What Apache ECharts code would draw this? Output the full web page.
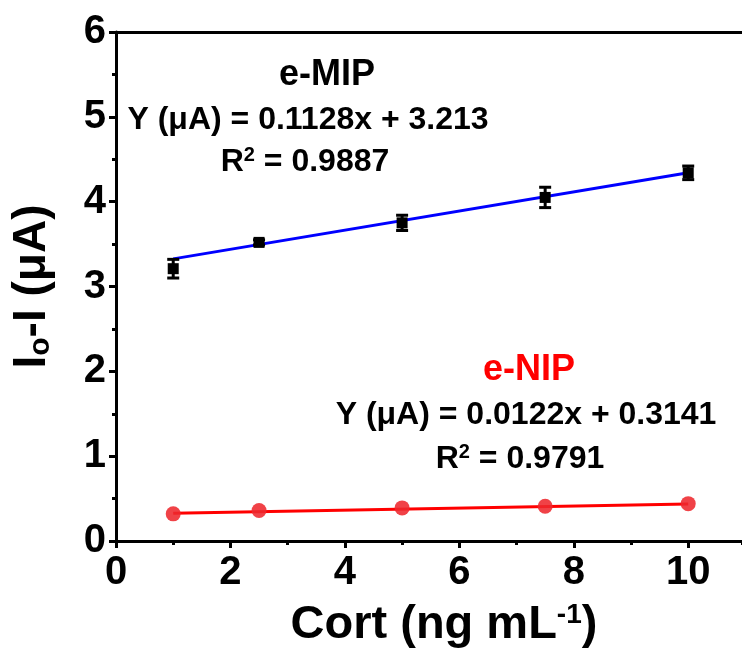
<!DOCTYPE html>
<html>
<head>
<meta charset="utf-8">
<script src="https://cdn.jsdelivr.net/npm/echarts@6/dist/echarts.min.js"></script>
<style>
  html, body { margin: 0; padding: 0; background: #fff; }
  #chart { width: 742px; height: 658px; }
</style>
</head>
<body>
<div id="chart"></div>
<script>
  // 浓度 (ng/mL)
  var conc = [1, 2.5, 5, 7.5, 10];
  // e-MIP 响应及误差
  var mipValues = [3.21, 3.52, 3.75, 4.05, 4.34];
  var mipErrors = [0.11, 0.03, 0.09, 0.12, 0.08];
  // e-NIP 响应
  var nipValues = [0.32, 0.36, 0.39, 0.41, 0.44];
  // 拟合参数 (斜率, 截距)
  var mipFit = [0.1128, 3.213];
  var nipFit = [0.0122, 0.3141];

  var fontFamily = '"Liberation Sans", Arial, sans-serif';
  var xMax = 10.94;

  function fitLine(fit) {
    var x0 = conc[0], x1 = conc[conc.length - 1];
    return [[x0, fit[0] * x0 + fit[1]], [x1, fit[0] * x1 + fit[1]]];
  }

  var chart = echarts.init(document.getElementById('chart'));

  var tickStyle = { color: '#000', width: 3 };
  var labelStyle = { fontFamily: fontFamily, fontWeight: 'bold', fontSize: 40, color: '#000' };
  var eqStyle = 'bold 32px ' + fontFamily;
  var r2Rich = {
    a: { fill: '#000', fontFamily: fontFamily, fontWeight: 'bold', fontSize: 32 },
    sup: { fill: '#000', fontFamily: fontFamily, fontWeight: 'bold', fontSize: 20, verticalAlign: 'top', padding: [0, 0, 14, 0] }
  };

  var option = {
    animation: false,
    backgroundColor: '#fff',
    grid: { left: 116, top: 32, right: 0, bottom: 117 },
    xAxis: [{
      // 主刻度 + 标签
      type: 'value', position: 'bottom',
      min: 0, max: xMax, interval: 2,
      name: 'Cort (ng mL{sup|-1})',
      nameLocation: 'middle',
      nameGap: 60,
      nameTextStyle: {
        fontFamily: fontFamily, fontWeight: 'bold', fontSize: 47, color: '#000',
        padding: [0, 0, 0, 30],
        rich: {
          sup: { fontFamily: fontFamily, fontWeight: 'bold', fontSize: 28, color: '#000', verticalAlign: 'top', padding: [0, 0, 20, 0] }
        }
      },
      axisLine: { lineStyle: tickStyle },
      axisTick: { length: 7, lineStyle: tickStyle },
      axisLabel: Object.assign({ margin: 12, showMaxLabel: false }, labelStyle),
      splitLine: { show: false }
    }, {
      // 次刻度
      type: 'value', position: 'bottom',
      min: 0, max: xMax, interval: 1,
      axisLine: { show: false },
      axisTick: { length: 4, lineStyle: tickStyle },
      axisLabel: { show: false },
      splitLine: { show: false }
    }, {
      // 顶边框
      type: 'value', position: 'top',
      min: 0, max: xMax,
      axisLine: { show: true, lineStyle: tickStyle },
      axisTick: { show: false },
      axisLabel: { show: false },
      splitLine: { show: false }
    }],
    yAxis: [{
      type: 'value', position: 'left',
      min: 0, max: 6, interval: 1,
      name: '{a|I}{sub|o}{a|-I (μA)}',
      nameLocation: 'middle',
      nameGap: 60,
      nameTextStyle: {
        rich: {
          a: { fontFamily: fontFamily, fontWeight: 'bold', fontSize: 46, color: '#000' },
          sub: { fontFamily: fontFamily, fontWeight: 'bold', fontSize: 30, color: '#000', verticalAlign: 'bottom', padding: [18, 0, 0, 0] }
        }
      },
      axisLine: { show: true, lineStyle: tickStyle },
      axisTick: { length: 7, lineStyle: tickStyle },
      axisLabel: Object.assign({ margin: 10 }, labelStyle),
      splitLine: { show: false }
    }, {
      // 次刻度
      type: 'value', position: 'left',
      min: 0, max: 6, interval: 0.5,
      axisLine: { show: false },
      axisTick: { length: 4, lineStyle: tickStyle },
      axisLabel: { show: false },
      splitLine: { show: false }
    }],
    series: [
      {
        name: 'e-MIP fit',
        type: 'line',
        data: fitLine(mipFit),
        symbol: 'none',
        lineStyle: { color: '#0000ff', width: 3 },
        z: 3
      },
      {
        name: 'e-MIP error',
        type: 'custom',
        data: conc.map(function (c, i) { return [c, mipValues[i] - mipErrors[i], mipValues[i] + mipErrors[i]]; }),
        renderItem: function (params, api) {
          var lo = api.coord([api.value(0), api.value(1)]);
          var hi = api.coord([api.value(0), api.value(2)]);
          var w = 6;
          var style = { stroke: '#000', lineWidth: 3 };
          return {
            type: 'group',
            children: [
              { type: 'line', shape: { x1: lo[0], y1: lo[1], x2: hi[0], y2: hi[1] }, style: style },
              { type: 'line', shape: { x1: lo[0] - w, y1: lo[1], x2: lo[0] + w, y2: lo[1] }, style: style },
              { type: 'line', shape: { x1: hi[0] - w, y1: hi[1], x2: hi[0] + w, y2: hi[1] }, style: style }
            ]
          };
        },
        z: 4
      },
      {
        name: 'e-MIP',
        type: 'scatter',
        data: conc.map(function (c, i) { return [c, mipValues[i]]; }),
        symbol: 'rect',
        symbolSize: 11,
        itemStyle: { color: '#000', opacity: 1 },
        z: 5
      },
      {
        name: 'e-NIP fit',
        type: 'line',
        data: fitLine(nipFit),
        symbol: 'none',
        lineStyle: { color: '#ff0000', width: 3 },
        z: 3
      },
      {
        name: 'e-NIP',
        type: 'scatter',
        data: conc.map(function (c, i) { return [c, nipValues[i]]; }),
        symbol: 'circle',
        symbolSize: 15,
        itemStyle: { color: 'rgba(238, 40, 45, 0.88)', opacity: 1 },
        z: 4
      }
    ],
    graphic: [
      { type: 'text', x: 327, y: 75, style: { text: 'e-MIP', fill: '#000', font: 'bold 36px ' + fontFamily, textAlign: 'center', textVerticalAlign: 'middle' } },
      { type: 'text', x: 308, y: 120, style: { text: 'Y (μA) = 0.1128x + 3.213', fill: '#000', font: eqStyle, textAlign: 'center', textVerticalAlign: 'middle' } },
      { type: 'text', x: 305, y: 162, style: { text: '{a|R}{sup|2}{a| = 0.9887}', textAlign: 'center', textVerticalAlign: 'middle', rich: r2Rich } },
      { type: 'text', x: 529, y: 370, style: { text: 'e-NIP', fill: '#ff0000', font: 'bold 36px ' + fontFamily, textAlign: 'center', textVerticalAlign: 'middle' } },
      { type: 'text', x: 526, y: 415, style: { text: 'Y (μA) = 0.0122x + 0.3141', fill: '#000', font: eqStyle, textAlign: 'center', textVerticalAlign: 'middle' } },
      { type: 'text', x: 520, y: 459, style: { text: '{a|R}{sup|2}{a| = 0.9791}', textAlign: 'center', textVerticalAlign: 'middle', rich: r2Rich } }
    ]
  };

  chart.setOption(option);
</script>
</body>
</html>
